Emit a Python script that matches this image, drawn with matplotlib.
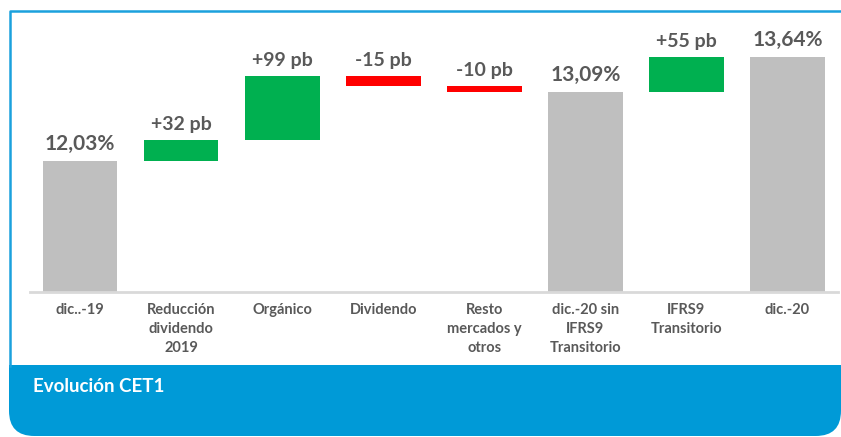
import numpy as np
import matplotlib
matplotlib.use('Agg')
import matplotlib.pyplot as plt
from matplotlib.patches import FancyBboxPatch, Rectangle
from matplotlib.lines import Line2D

# Datos de la cascada CET1
categorias = ['dic..-19', 'Reducción\ndividendo\n2019', 'Orgánico', 'Dividendo',
              'Resto\nmercados y\notros', 'dic.-20 sin\nIFRS9\nTransitorio',
              'IFRS9\nTransitorio', 'dic.-20']
valores = [12.03, 0.32, 0.99, -0.15, -0.10, 13.09, 0.55, 13.64]
es_total = [True, False, False, False, False, True, False, True]
etiquetas = ['12,03%', '+32 pb', '+99 pb', '-15 pb', '-10 pb', '13,09%', '+55 pb', '13,64%']

GRIS = '#BFBFBF'
VERDE = '#00B050'
ROJO = '#FF0000'
TEXTO = '#595959'
AZUL = '#009AD7'

plt.rcParams['font.family'] = ['Lato', 'DejaVu Sans']

W, H = 841, 437
fig = plt.figure(figsize=(W / 100, H / 100), dpi=100)

def fx(px):
    return px / W

def fy(py):
    return 1 - py / H

# banda azul inferior con esquina redondeada
banda = FancyBboxPatch((fx(9), fy(436)), fx(841) - fx(9), fy(365) - fy(436),
                       boxstyle='round,pad=0,rounding_size=0.03',
                       transform=fig.transFigure, facecolor=AZUL, edgecolor='none',
                       mutation_aspect=W / H, zorder=-2)
fig.patches.append(banda)
fig.patches.append(Rectangle((fx(9), fy(400)), fx(841) - fx(9), fy(365) - fy(400),
                             transform=fig.transFigure, facecolor=AZUL,
                             edgecolor='none', zorder=-2))
# marco fino
fig.lines.append(Line2D([fx(10), fx(10), fx(845)], [fy(366), fy(11), fy(11)],
                        transform=fig.transFigure, color='#1BA1DD', lw=1.8, zorder=-1))
fig.text(fx(33), fy(386), 'Evolución CET1', color='white', fontsize=13.5,
         fontweight='bold', va='center', ha='left')

ax = fig.add_axes([fx(29.5), fy(292), fx(838) - fx(29.5), fy(20) - fy(292)])

x = np.arange(len(valores))
acumulado = 0.0
for i, (v, tot) in enumerate(zip(valores, es_total)):
    if tot:
        base, alto, color = 0, v, GRIS
        acumulado = v
    else:
        if v >= 0:
            base, alto, color = acumulado, v, VERDE
        else:
            base, alto, color = acumulado + v, -v, ROJO
        acumulado += v
    ax.bar(x[i], alto, bottom=base, width=0.74, color=color, zorder=2)
    cima = base + alto
    tam = 15 if tot else 14
    ax.annotate(etiquetas[i], (x[i], cima), xytext=(0, 5), textcoords='offset points',
                ha='center', va='bottom', fontsize=tam, fontweight='bold', color=TEXTO)

ax.set_xlim(-0.5, len(valores) - 0.5)
ax.set_ylim(10.0, 14.21)
ax.set_xticks(x)
ax.set_xticklabels(categorias, fontsize=10.5, fontweight='bold', color=TEXTO,
                   linespacing=1.45)
ax.tick_params(axis='x', length=0, pad=8)
ax.set_yticks([])
for s in ['top', 'right', 'left']:
    ax.spines[s].set_visible(False)
ax.spines['bottom'].set_color('#D9D9D9')
ax.spines['bottom'].set_linewidth(2)
ax.patch.set_alpha(0)

fig.savefig('out.png', dpi=100)
